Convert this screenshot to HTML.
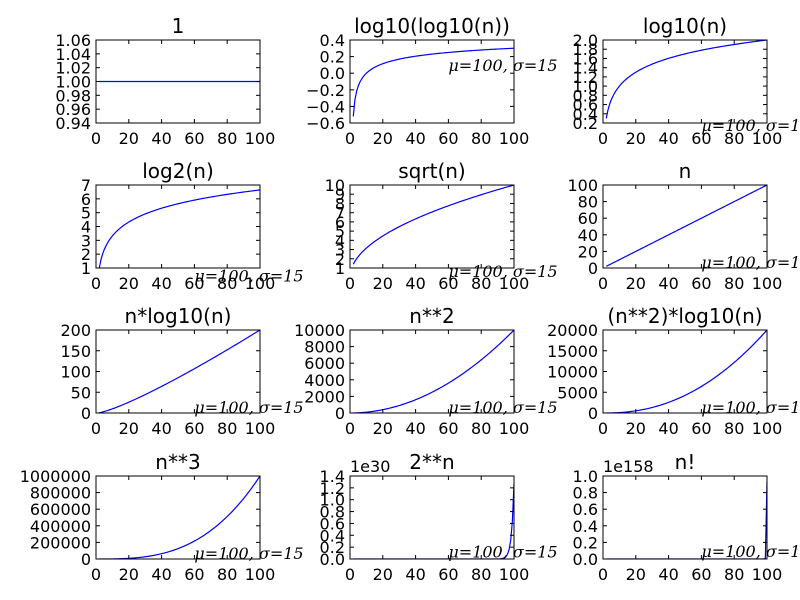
<!DOCTYPE html>
<html><head><meta charset="utf-8"><style>
body{margin:0;background:#fff}
svg{display:block}
text{font-family:"DejaVu Sans","Liberation Sans",sans-serif;fill:#000}
.ann{font-family:"DejaVu Serif","Liberation Serif",serif;font-style:italic;font-size:16px}
</style></head><body>
<svg id="fig" width="800" height="600" viewBox="0 0 800 600"></svg>
<script>
const titles = ["1","log10(log10(n))","log10(n)","log2(n)","sqrt(n)","n","n*log10(n)","n**2","(n**2)*log10(n)","n**3","2**n","n!"];
const yMins = [0.94,-0.6,0.2,1,1,0,0,0,0,0,0,0];
const yMaxs = [1.06,0.4,2.0,7,10,100,200,10000,20000,1000000,1.4,1.0];
const yTickLabels = [
 ["0.94","0.96","0.98","1.00","1.02","1.04","1.06"],
 ["−0.6","−0.4","−0.2","0.0","0.2","0.4"],
 ["0.2","0.4","0.6","0.8","1.0","1.2","1.4","1.6","1.8","2.0"],
 ["1","2","3","4","5","6","7"],
 ["1","2","3","4","5","6","7","8","9","10"],
 ["0","20","40","60","80","100"],
 ["0","50","100","150","200"],
 ["0","2000","4000","6000","8000","10000"],
 ["0","5000","10000","15000","20000"],
 ["0","200000","400000","600000","800000","1000000"],
 ["0.0","0.2","0.4","0.6","0.8","1.0","1.2","1.4"],
 ["0.0","0.2","0.4","0.6","0.8","1.0"]];
const yScale = [1,1,1,1,1,1,1,1,1,1,1e30,1e158];
const offsetLabels = ["","","","","","","","","","","1e30","1e158"];
const xTicks = [0,20,40,60,80,100];
const ns = []; for(let i=2;i<=100;i++) ns.push(i);
const fns = [n=>1,n=>Math.log10(Math.log10(n)),n=>Math.log10(n),n=>Math.log2(n),n=>Math.sqrt(n),n=>n,
 n=>n*Math.log10(n),n=>n*n,n=>n*n*Math.log10(n),n=>n*n*n,n=>Math.pow(2,n),
 n=>{let f=1;for(let k=2;k<=n;k++)f*=k;return f;}];
const annX = 60, annY = 0.025;

const svg = document.getElementById('fig');
const NS = 'http://www.w3.org/2000/svg';
function mk(tag, attrs, parent){const e=document.createElementNS(NS,tag);for(const k in attrs)e.setAttribute(k,attrs[k]);(parent||svg).appendChild(e);return e;}
const colL=[96,350,603], rowT=[40,185,330,476], W=164, H=83;
for(let p=0;p<12;p++){
 const L=colL[p%3], T=rowT[Math.floor(p/3)], B=T+H, R=L+W;
 const g=mk('g',{});
 
 
 const xs=v=>L+(v-0)/100*W;
 const ys=v=>B-(v/yScale[p]-yMins[p])/(yMaxs[p]-yMins[p])*H;
 const clipId='c'+p;
 const cp=mk('clipPath',{id:clipId},g); mk('rect',{x:L,y:T,width:W,height:H},cp);
 let d='';
 ns.forEach((n,i)=>{d+=(i?'L':'M')+xs(n).toFixed(2)+','+Math.max(-1000,Math.min(2000,ys(fns[p](n)))).toFixed(2);});
 const path=mk('path',{d:d,fill:'none',stroke:'#0000ff','stroke-width':1.2,'clip-path':'url(#'+clipId+')'},g);
 
 
 const fr=mk('rect',{x:L,y:T,width:W,height:H,fill:'none',stroke:'#000','stroke-width':1},g);
 
 
 xTicks.forEach(v=>{const x=xs(v);
  mk('line',{x1:x,x2:x,y1:B,y2:B-4,stroke:'#000'},g);mk('line',{x1:x,x2:x,y1:T,y2:T+4,stroke:'#000'},g);
  const t=mk('text',{x:x,y:B+21,'text-anchor':'middle','font-size':16},g);t.textContent=v;
  
  });
 const labs=yTickLabels[p];
 labs.forEach((s,i)=>{const v=yMins[p]+i*(yMaxs[p]-yMins[p])/(labs.length-1);const y=B-(v-yMins[p])/(yMaxs[p]-yMins[p])*H;
  mk('line',{x1:L,x2:L+4,y1:y,y2:y,stroke:'#000'},g);mk('line',{x1:R,x2:R-4,y1:y,y2:y,stroke:'#000'},g);
  const t=mk('text',{x:L-5,y:y+6,'text-anchor':'end','font-size':16},g);t.textContent=s;
  
  });
 const tt=mk('text',{x:L+W/2,y:T-7,'text-anchor':'middle','font-size':20},g);tt.textContent=titles[p];
 
 
 if(offsetLabels[p]){const o=mk('text',{x:L,y:T-4,'font-size':16},g);o.textContent=offsetLabels[p];
  
  }
 const ay=ys(annY*yScale[p]);
 if(ay<600){const a=mk('text',{x:xs(annX),y:ay,class:'ann'},g);a.textContent='μ=100, σ=15';
  
  }
}
</script>
</body></html>
